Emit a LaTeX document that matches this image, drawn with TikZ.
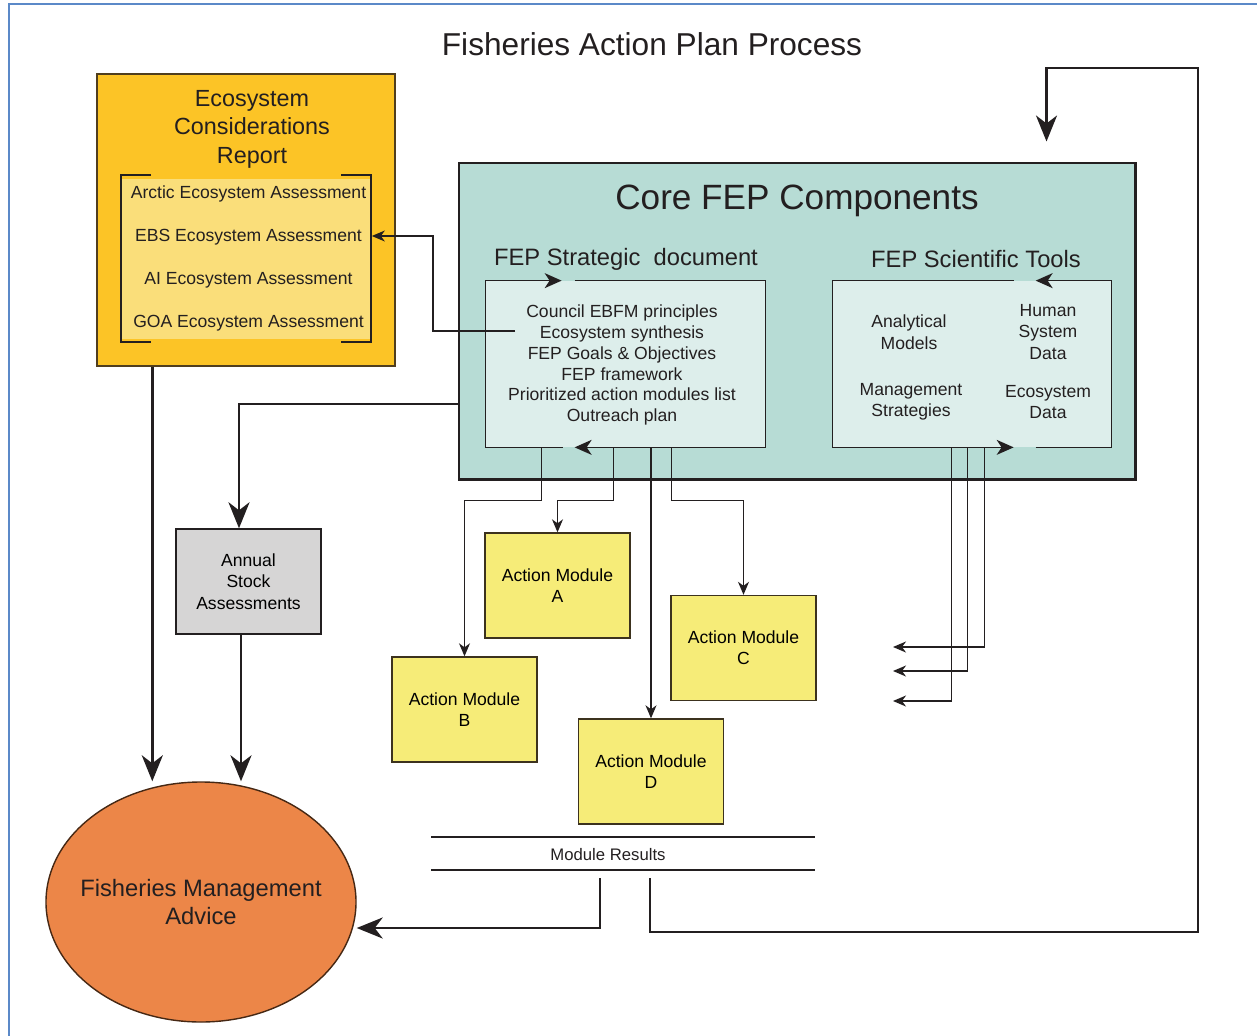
\documentclass[tikz,border=0pt]{standalone}
\usepackage{fontspec}
\setmainfont{Liberation Sans}
\usetikzlibrary{arrows.meta,shapes.geometric}
\definecolor{ink}{RGB}{35,31,32}
\definecolor{frameblue}{RGB}{91,137,200}
\definecolor{ecrgold}{RGB}{252,196,38}
\definecolor{ecrlight}{RGB}{250,222,122}
\definecolor{ecredge}{RGB}{80,62,30}
\definecolor{coreteal}{RGB}{183,220,213}
\definecolor{innerteal}{RGB}{221,238,235}
\definecolor{annualgray}{RGB}{214,213,213}
\definecolor{modyellow}{RGB}{246,236,120}
\definecolor{modedge}{RGB}{60,50,30}
\definecolor{advorange}{RGB}{236,134,72}
\definecolor{advedge}{RGB}{70,40,20}
\newcommand\setfs[2]{\fontsize{#1}{#2}\selectfont}

\begin{document}
\begin{tikzpicture}[x=0.2mm,y=-0.2mm,
    lbl/.style={inner sep=0pt, align=center, text=ink},
    modbox/.style={draw=modedge, fill=modyellow, line width=0.8pt, inner sep=0pt,
        minimum width=29mm, minimum height=21mm, align=center, font=\setfs{10}{12}},
    bigarrow/.style={draw=ink, line width=1.6pt, -{Stealth[length=5.2mm,width=4.2mm,inset=1.6mm]}},
    thinarrow/.style={draw=ink, line width=0.7pt, -{Stealth[length=2.6mm,width=2.2mm,inset=0.8mm]}},
    cyclearrow/.style={draw=ink, line width=0.8pt, -{Stealth[length=3.4mm,width=3mm,inset=1mm]}}]
    \useasboundingbox (0,0) rectangle (1257,1036);

    % frame and title
    \draw[frameblue, line width=1.2pt] (9,1036) -- (9,4) -- (1257,4);
    \node[lbl, font=\setfs{18}{22}] (title) at (652,44) {Fisheries Action Plan Process};

    % Ecosystem Considerations Report
    \node[draw=ecredge, fill=ecrgold, line width=0.8pt, inner sep=0pt,
        minimum width=59.6mm, minimum height=58.4mm] (ecr) at (246,220) {};
    \node[fill=ecrlight, inner sep=0pt, minimum width=50mm, minimum height=32mm] (ecrin) at (246.5,259) {};
    \draw[ink, line width=0.8pt] (151,175) -| (121,342) -- (151,342);
    \draw[ink, line width=0.8pt] (341,175) -| (371,342) -- (341,342);
    \node[lbl, font=\setfs{13.3}{16.2}] (ecrtitle) at (252,129) {Ecosystem\\Considerations\\Report};
    \foreach \r [count=\i] in {Arctic,EBS,AI,GOA}
        \node[lbl, font=\setfs{10}{12}] (assess\i) at (248.5,151+43*\i) {\r{} Ecosystem Assessment};

    % Core FEP components
    \node[draw=ink, fill=coreteal, line width=1.7pt, inner sep=0pt,
        minimum width=135.2mm, minimum height=63.2mm] (core) at (797,321) {};
    \node[lbl, font=\setfs{20}{24}] (coretitle) at (797,201) {Core FEP Components};
    \node[lbl, font=\setfs{13.5}{16}] (strattitle) at (626,259) {FEP Strategic~ document};
    \node[lbl, font=\setfs{13.5}{16}] (scititle) at (976,259) {FEP Scientific Tools};
    \node[fill=innerteal, inner sep=0pt, minimum width=55.8mm, minimum height=33.2mm] (strat) at (625.5,364) {};
    \node[fill=innerteal, inner sep=0pt, minimum width=55.6mm, minimum height=33.2mm] (sci) at (972,364) {};

    % strategic document loop
    \draw[cyclearrow] ([xshift=15.4mm]strat.south west) -- (strat.south west)
        -- (strat.north west) -- ([xshift=15.2mm]strat.north west);
    \draw[cyclearrow] ([xshift=17.8mm]strat.north west) -- (strat.north east)
        -- (strat.south east) -- ([xshift=17.8mm]strat.south west);
    \node[lbl, font=\setfs{10}{11.9}] (stratlist) at (622,365)
        {Council EBFM principles\\Ecosystem synthesis\\FEP Goals \& Objectives\\FEP framework\\Prioritized action modules list\\Outreach plan};

    % scientific tools loop
    \draw[cyclearrow] ([xshift=36.2mm]sci.north west) -- (sci.north west)
        -- (sci.south west) -- ([xshift=36.2mm]sci.south west);
    \draw[cyclearrow] ([xshift=40.6mm]sci.south west) -- (sci.south east)
        -- (sci.north east) -- ([xshift=40.6mm]sci.north west);
    \node[lbl, font=\setfs{10}{12.2}] (models) at (909,332) {Analytical\\Models};
    \node[lbl, font=\setfs{10}{12.2}] (human) at (1048,332) {Human\\System\\Data};
    \node[lbl, font=\setfs{10}{12.2}] (mgmt) at (911,402) {Management\\Strategies};
    \node[lbl, font=\setfs{10}{12.2}] (ecodata) at (1048,402) {Ecosystem\\Data};

    % synthesis feeds the assessments
    \coordinate (synth) at (515,331);
    \draw[thinarrow] (synth) -- ++(-82,0) |- ([yshift=4.6mm]ecrin.east);

    % stock assessments and advice
    \node[draw=ink, fill=annualgray, line width=0.8pt, inner sep=0pt, minimum width=29mm,
        minimum height=21mm, align=center, font=\setfs{10}{12.2}] (annual) at (248.5,581.5) {Annual\\Stock\\Assessments};
    \node[ellipse, draw=advedge, fill=advorange, line width=0.8pt, inner sep=0pt, minimum width=62mm,
        minimum height=48mm] (advice) at (201,902) {};
    \node[lbl, font=\setfs{13.5}{15.9}] (advicetext) at (advice) {Fisheries Management\\Advice};
    \draw[bigarrow] ([yshift=-16.6mm]core.west) -| ([xshift=-1.9mm]annual.north);
    \draw[bigarrow] ([xshift=11.2mm]ecr.south west) -- ([xshift=11.2mm]ecr.south west |- advice.north);
    \draw[bigarrow] ([xshift=-1.5mm]annual.south) -- ([xshift=-1.5mm]annual.south |- advice.north);

    % action modules
    \node[modbox] (modA) at (557.5,585.5) {Action Module\\A};
    \node[modbox] (modB) at (464.5,709.5) {Action Module\\B};
    \node[modbox] (modC) at (743.5,648) {Action Module\\C};
    \node[modbox] (modD) at (651,771.5) {Action Module\\D};
    \foreach \dx/\m in {11.2/modB,25.6/modA,37.2/modC}
        \draw[thinarrow] ([xshift=\dx mm]strat.south west) -- ++(0,53) -| (\m.north);
    \draw[thinarrow] (strat.south west -| modD.north) -- (modD.north);

    % tool outputs
    \coordinate (out1) at (893,647);
    \coordinate (out2) at (893,671);
    \coordinate (out3) at (893,701);
    \foreach \dx/\o in {30.4/1,27/2,23.8/3}
        \draw[thinarrow] ([xshift=\dx mm]sci.south west) |- (out\o);

    % module results
    \draw[ink, line width=0.8pt] (431,837) -- (815,837) (431,870) -- (815,870);
    \node[lbl, font=\setfs{9.5}{11}] (results) at (608,855) {Module Results};
    \coordinate (resL) at (600,878);
    \coordinate (resR) at (650,878);
    \draw[bigarrow] (resL) |- ([yshift=-5.2mm]advice.east);
    \draw[bigarrow, shorten >=4mm] (resR) |- ++(548,54) -- ++(0,-864) -| ([xshift=117.8mm]core.north west);
\end{tikzpicture}
\end{document}
